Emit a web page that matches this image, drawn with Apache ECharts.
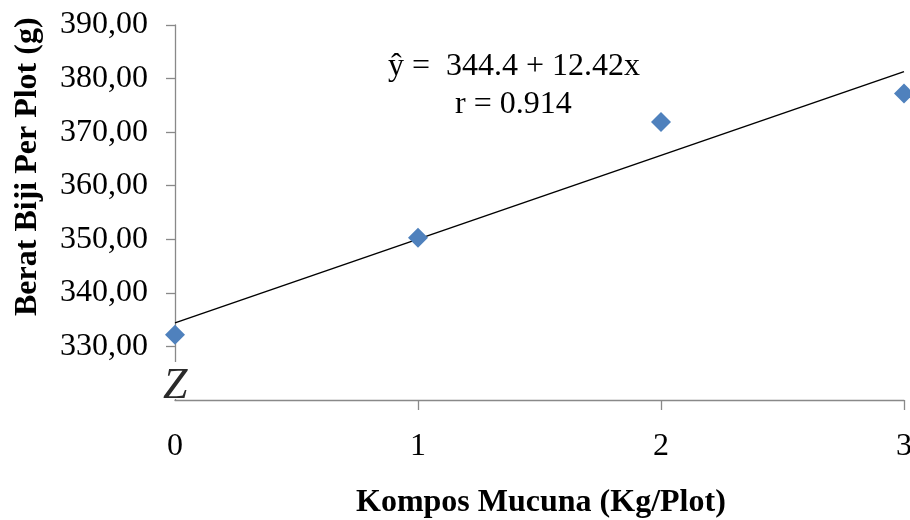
<!DOCTYPE html>
<html>
<head>
<meta charset="utf-8">
<script src="https://cdn.jsdelivr.net/npm/echarts@6/dist/echarts.min.js"></script>
<style>html,body{margin:0;padding:0;background:#fff;overflow:hidden;}#c{width:910px;height:520px;}</style>
</head>
<body>
<div id="c"></div>
<script>
var xValues = [0, 1, 2, 3];
var yValues = [332.2, 350.3, 371.9, 377.2];
var trendX = [0, 3];
var trendY = [334.4, 381.3];
var xTickValues = [0, 1, 2, 3];
var xTickLabels = ['0', '1', '2', '3'];
var yTickValues = [330, 340, 350, 360, 370, 380, 390];
var yTickLabels = ['330,00', '340,00', '350,00', '360,00', '370,00', '380,00', '390,00'];
var equationText = 'ŷ =  344.4 + 12.42x';
var rText = 'r = 0.914';
var xTitle = 'Kompos Mucuna (Kg/Plot)';
var yTitle = 'Berat Biji Per Plot (g)';

var FONT = '"Liberation Serif", "Times New Roman", serif';
var chart = echarts.init(document.getElementById('c'));
chart.setOption({
  animation: false,
  backgroundColor: '#ffffff',
  grid: { left: 175, right: 6, top: 25, bottom: 120, containLabel: false, outerBoundsMode: 'none' },
  xAxis: {
    type: 'value', min: 0, max: 3, interval: 1,
    axisLine: { show: true, lineStyle: { color: '#898989', width: 1.3 } },
    axisTick: { show: true, length: 10, customValues: [1, 2, 3], lineStyle: { color: '#898989', width: 1.3 } },
    splitLine: { show: false },
    axisLabel: {
      margin: 31, color: '#000', fontFamily: FONT, fontSize: 32,
      formatter: function (v) { var i = xTickValues.indexOf(v); return i >= 0 ? xTickLabels[i] : ''; }
    }
  },
  yAxis: {
    type: 'value', min: 320, max: 390, interval: 10,
    axisLine: { show: true, lineStyle: { color: '#898989', width: 1.3 } },
    axisTick: { show: true, length: 9, customValues: yTickValues, lineStyle: { color: '#898989', width: 1.3 } },
    splitLine: { show: false },
    axisLabel: {
      margin: 27, color: '#000', fontFamily: FONT, fontSize: 32,
      formatter: function (v) { var i = yTickValues.indexOf(v); return i >= 0 ? yTickLabels[i] : ''; }
    }
  },
  series: [
    {
      type: 'line', data: trendX.map(function (x, i) { return [x, trendY[i]]; }),
      symbol: 'none', lineStyle: { color: '#000', width: 1.5 }, z: 2
    },
    {
      type: 'scatter', data: xValues.map(function (x, i) { return [x, yValues[i]]; }),
      symbol: 'diamond', symbolSize: 20,
      itemStyle: { color: '#4F81BD', opacity: 1 }, z: 3
    }
  ],
  graphic: [
    { type: 'rect', left: 162, top: 362, shape: { width: 28, height: 37 }, style: { fill: '#fff' }, z: 50 },
    { type: 'text', left: 163, top: 364, z: 51,
      style: { text: 'Z', fill: '#2a2a2a', fontFamily: FONT, fontStyle: 'italic', fontSize: 44,
               shadowBlur: 3, shadowColor: 'rgba(0,0,0,0.4)' } },
    { type: 'text', left: 388, top: 51, z: 10,
      style: { text: equationText, fill: '#000', fontFamily: FONT, fontSize: 32 } },
    { type: 'text', left: 455, top: 89, z: 10,
      style: { text: rText, fill: '#000', fontFamily: FONT, fontSize: 32 } },
    { type: 'text', left: 356, top: 487, z: 10,
      style: { text: xTitle, fill: '#000', fontFamily: FONT, fontWeight: 'bold', fontSize: 32 } },
    { type: 'text', x: 12, y: 316, rotation: Math.PI / 2, z: 10,
      style: { text: yTitle, fill: '#000', fontFamily: FONT, fontWeight: 'bold', fontSize: 32,
               align: 'left', verticalAlign: 'top' } }
  ]
});
</script>
</body>
</html>
